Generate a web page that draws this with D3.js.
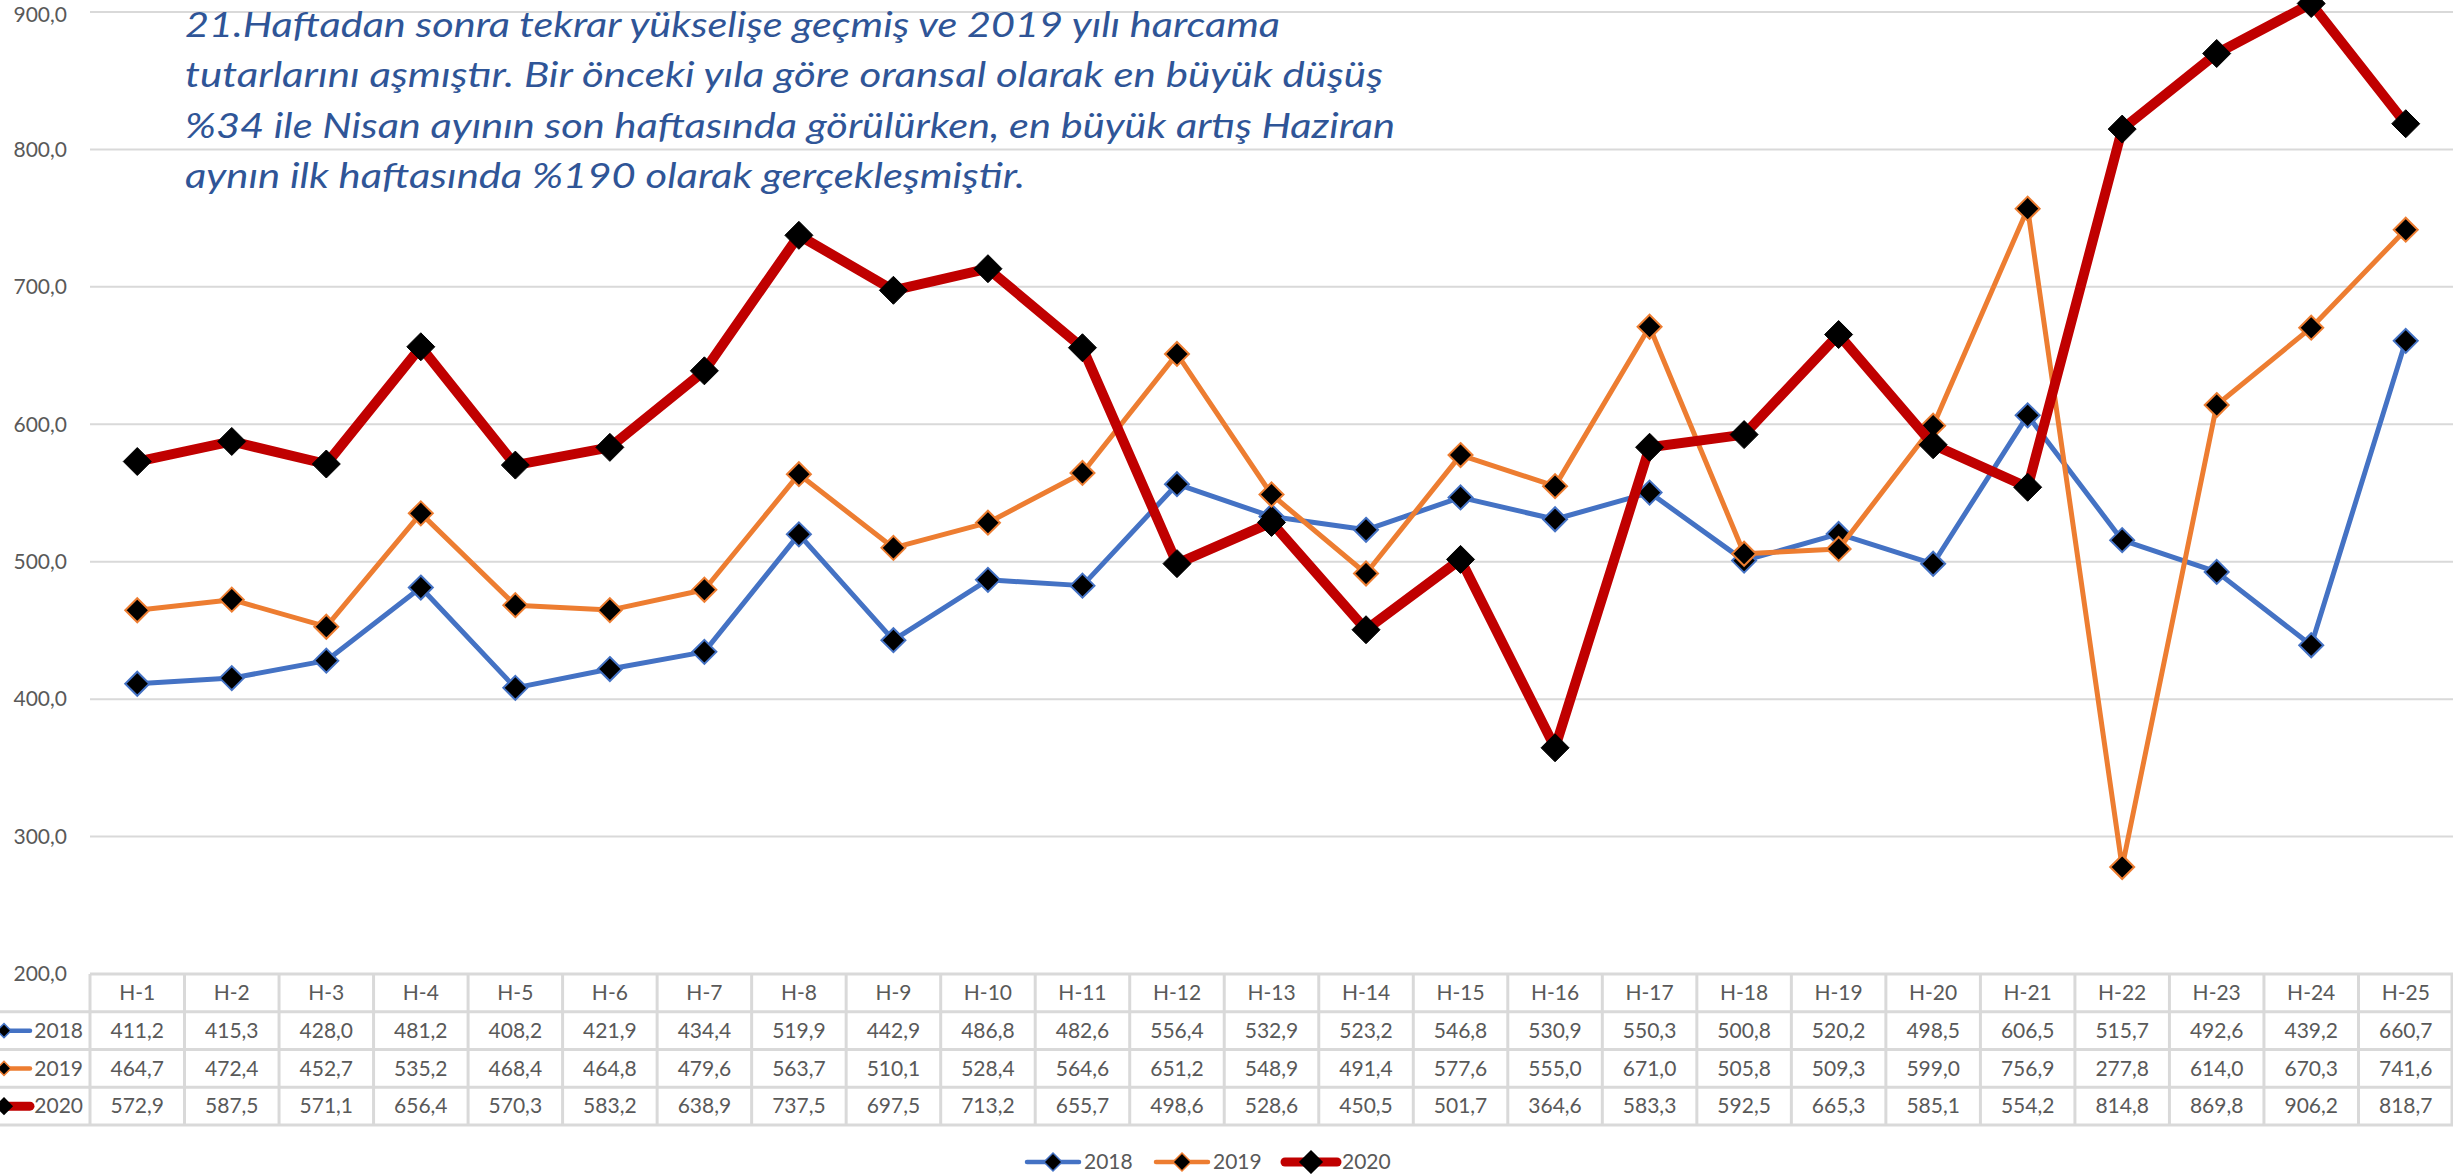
<!DOCTYPE html>
<html lang="tr">
<head>
<meta charset="utf-8">
<title>Haftalık harcama tutarları</title>
<script src="https://cdn.jsdelivr.net/npm/d3@7"></script>
<style>
  body { margin: 0; background: #fff; }
  svg { display: block; font-family: Lato, "Open Sans", sans-serif; }
</style>
</head>
<body>
<svg id="chart"></svg>
<script>
const width = 2453;
const height = 1174;

// data
const weeks = ["H-1","H-2","H-3","H-4","H-5","H-6","H-7","H-8","H-9","H-10","H-11","H-12","H-13",
               "H-14","H-15","H-16","H-17","H-18","H-19","H-20","H-21","H-22","H-23","H-24","H-25"];
const years = ["2018", "2019", "2020"];
const values2018 = [411.2, 415.3, 428.0, 481.2, 408.2, 421.9, 434.4, 519.9, 442.9, 486.8, 482.6, 556.4, 532.9,
                    523.2, 546.8, 530.9, 550.3, 500.8, 520.2, 498.5, 606.5, 515.7, 492.6, 439.2, 660.7];
const values2019 = [464.7, 472.4, 452.7, 535.2, 468.4, 464.8, 479.6, 563.7, 510.1, 528.4, 564.6, 651.2, 548.9,
                    491.4, 577.6, 555.0, 671.0, 505.8, 509.3, 599.0, 756.9, 277.8, 614.0, 670.3, 741.6];
const values2020 = [572.9, 587.5, 571.1, 656.4, 570.3, 583.2, 638.9, 737.5, 697.5, 713.2, 655.7, 498.6, 528.6,
                    450.5, 501.7, 364.6, 583.3, 592.5, 665.3, 585.1, 554.2, 814.8, 869.8, 906.2, 818.7];
const yTicks = [200, 300, 400, 500, 600, 700, 800, 900];
const noteLines = [
  "21.Haftadan sonra tekrar yükselişe geçmiş ve 2019 yılı harcama",
  "tutarlarını aşmıştır. Bir önceki yıla göre oransal olarak en büyük düşüş",
  "%34 ile Nisan ayının son haftasında görülürken, en büyük artış Haziran",
  "aynın ilk haftasında %190 olarak gerçekleşmiştir."
];

const series = [
  { name: years[0], values: values2018 },
  { name: years[1], values: values2019 },
  { name: years[2], values: values2020 }
];

// styles
const colors = { "2018": "#4472C4", "2019": "#ED7D31", "2020": "#C00000" };
const lineWidth = { "2018": 5, "2019": 5, "2020": 10 };
const markerR = { "2018": 12, "2019": 12, "2020": 14 };
const gridColor = "#D9D9D9";
const textColor = "#595959";
const fontSize = 21;

const svg = d3.select("#chart")
  .attr("width", width)
  .attr("height", height)
  .attr("viewBox", [0, 0, width, height]);

const x = d3.scaleBand().domain(weeks).range([90, width]).padding(0);
const y = d3.scaleLinear().domain([200, 900]).range([974, 12]);
const cx = w => x(w) + x.bandwidth() / 2;
const fmt = v => d3.format(".1f")(v).replace(".", ",");

function diamond(r) {
  return `M0,${-r}L${r},0L0,${r}L${-r},0Z`;
}

// gridlines
svg.append("g")
  .selectAll("line")
  .data(yTicks)
  .join("line")
  .attr("x1", x.range()[0])
  .attr("x2", x.range()[1])
  .attr("y1", d => y(d))
  .attr("y2", d => y(d))
  .attr("stroke", gridColor)
  .attr("stroke-width", 2);

// y labels (top one kept inside the page)
svg.append("g")
  .selectAll("text")
  .data(yTicks)
  .join("text")
  .attr("x", 67)
  .attr("y", d => Math.max(y(d), 15))
  .attr("dy", "0.35em")
  .attr("text-anchor", "end")
  .attr("font-size", fontSize)
  .attr("fill", textColor)
  .text(fmt);

// annotation
svg.append("g")
  .selectAll("text")
  .data(noteLines)
  .join("text")
  .attr("x", 185)
  .attr("y", (d, i) => 37 + i * 50.3)
  .attr("font-size", 35)
  .attr("font-style", "italic")
  .attr("fill", "#2F5597")
  .attr("textLength", (d, i) => [1095, 1198, 1210, 840][i])
  .attr("lengthAdjust", "spacingAndGlyphs")
  .text(d => d);

// lines and markers
const line = d3.line()
  .x((d, i) => cx(weeks[i]))
  .y(d => y(d));

series.forEach(s => {
  const g = svg.append("g");
  g.append("path")
    .datum(s.values)
    .attr("d", line)
    .attr("fill", "none")
    .attr("stroke", colors[s.name])
    .attr("stroke-width", lineWidth[s.name])
    .attr("stroke-linejoin", "round");

  g.selectAll("path.m")
    .data(s.values)
    .join("path")
    .attr("class", "m")
    .attr("transform", (d, i) => `translate(${cx(weeks[i])},${y(d)})`)
    .attr("d", diamond(markerR[s.name]))
    .attr("fill", "black")
    .attr("stroke", s.name === "2020" ? "black" : colors[s.name])
    .attr("stroke-width", s.name === "2020" ? 1 : 2);
});

// data table
const rows = d3.scaleBand().domain(["head", ...years]).range([974, 1125]);
const table = svg.append("g");

table.selectAll("line.h")
  .data(rows.domain().concat(["end"]))
  .join("line")
  .attr("class", "h")
  .attr("x1", d => d === "head" ? x.range()[0] : 0)
  .attr("x2", x.range()[1])
  .attr("y1", d => d === "end" ? rows.range()[1] : rows(d))
  .attr("y2", d => d === "end" ? rows.range()[1] : rows(d))
  .attr("stroke", gridColor)
  .attr("stroke-width", 3);

table.selectAll("line.v")
  .data(weeks.map(w => x(w)).concat([x.range()[1] - 1]))
  .join("line")
  .attr("class", "v")
  .attr("x1", d => d)
  .attr("x2", d => d)
  .attr("y1", rows.range()[0])
  .attr("y2", rows.range()[1])
  .attr("stroke", gridColor)
  .attr("stroke-width", 3);

table.selectAll("text.head")
  .data(weeks)
  .join("text")
  .attr("class", "head")
  .attr("x", d => cx(d))
  .attr("y", rows("head") + rows.bandwidth() / 2)
  .attr("dy", "0.35em")
  .attr("text-anchor", "middle")
  .attr("font-size", fontSize)
  .attr("fill", textColor)
  .text(d => d);

series.forEach(s => {
  const ry = rows(s.name) + rows.bandwidth() / 2;
  table.append("g")
    .selectAll("text")
    .data(s.values)
    .join("text")
    .attr("x", (d, i) => cx(weeks[i]))
    .attr("y", ry)
    .attr("dy", "0.35em")
    .attr("text-anchor", "middle")
    .attr("font-size", fontSize)
    .attr("fill", textColor)
    .text(fmt);

  // legend key inside the table
  table.append("line")
    .attr("x1", 4).attr("x2", 30)
    .attr("y1", ry).attr("y2", ry)
    .attr("stroke", colors[s.name])
    .attr("stroke-width", lineWidth[s.name] * 0.9)
    .attr("stroke-linecap", "round");
  table.append("path")
    .attr("transform", `translate(4,${ry})`)
    .attr("d", diamond(s.name === "2020" ? 8 : 7))
    .attr("fill", "black")
    .attr("stroke", s.name === "2020" ? "black" : colors[s.name])
    .attr("stroke-width", 1.5);
  table.append("text")
    .attr("x", 83)
    .attr("y", ry)
    .attr("dy", "0.35em")
    .attr("text-anchor", "end")
    .attr("font-size", fontSize)
    .attr("fill", textColor)
    .text(s.name);
});

// legend
const legend = svg.append("g").attr("transform", "translate(1025,1162)");
const item = legend.selectAll("g")
  .data(series)
  .join("g")
  .attr("transform", (d, i) => `translate(${i * 129},0)`);

item.append("line")
  .attr("x1", 2).attr("x2", 54)
  .attr("y1", 0).attr("y2", 0)
  .attr("stroke", d => colors[d.name])
  .attr("stroke-width", d => lineWidth[d.name] * 0.9)
  .attr("stroke-linecap", "round");
item.append("path")
  .attr("transform", "translate(28,0)")
  .attr("d", d => diamond(d.name === "2020" ? 11 : 9))
  .attr("fill", "black")
  .attr("stroke", d => d.name === "2020" ? "black" : colors[d.name])
  .attr("stroke-width", 1.5);
item.append("text")
  .attr("x", 59)
  .attr("y", 0)
  .attr("dy", "0.35em")
  .attr("font-size", fontSize)
  .attr("fill", textColor)
  .text(d => d.name);
</script>
</body>
</html>
